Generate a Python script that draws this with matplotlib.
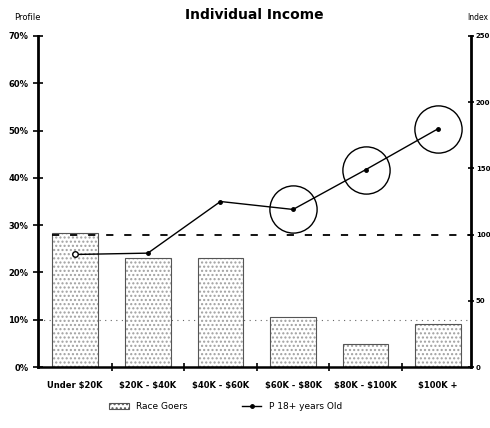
import matplotlib.pyplot as plt

# data
categories = ['Under \\$20K', '\\$20K - \\$40K', '\\$40K - \\$60K', '\\$60K - \\$80K', '\\$80K - \\$100K', '\\$100K +']
race_goers = [28.3, 23.0, 23.0, 10.6, 4.9, 9.1]      # profile, %
index_18plus = [85, 86, 125, 119, 149, 180]           # index, right axis
circled = [3, 4, 5]                                   # points with a ring round them

fig = plt.figure(figsize=(4.9, 4.28), dpi=100)
ax = fig.add_axes([0.078, 0.1425, 0.883, 0.7734])

x = list(range(len(categories)))

# bars, light stipple plus a thin outline
ax.bar(x, race_goers, width=0.63, color='white', edgecolor='#a0a0a0', hatch='....', linewidth=0, zorder=1)
ax.bar(x, race_goers, width=0.63, color='none', edgecolor='#555555', linewidth=0.8, zorder=2)

ax.set_ylim(0, 70)
ax.set_xlim(-0.51, 5.45)
ax.set_yticks(range(0, 71, 10))
ax.set_yticklabels([str(v) + '%' for v in range(0, 71, 10)], fontsize=6, fontweight='bold')
ax.set_xticks(x)
ax.set_xticklabels(categories, fontsize=6, fontweight='bold')
ax.tick_params(axis='x', length=0, pad=10)
ax.tick_params(axis='y', direction='inout', length=7, width=1.2)
ax.set_xticks([i + 0.5 for i in range(5)], minor=True)
ax.tick_params(axis='x', which='minor', direction='inout', length=6, width=1.2)

ax.spines['top'].set_visible(False)
ax.spines['right'].set_visible(False)
ax.spines['left'].set_linewidth(2)
ax.spines['bottom'].set_linewidth(1.8)

# dotted line at 10%
ax.axhline(10, color='#666666', linestyle=(0, (1, 4)), linewidth=0.8, zorder=0)

# index on the right axis
ax2 = ax.twinx()
ax2.set_ylim(0, 250)
ax2.set_yticks(range(0, 251, 50))
ax2.set_yticklabels([str(v) for v in range(0, 251, 50)], fontsize=5, fontweight='bold')
ax2.tick_params(axis='y', direction='inout', length=5, width=1.2, pad=1)
ax2.spines['top'].set_visible(False)
ax2.spines['left'].set_visible(False)
ax2.spines['bottom'].set_visible(False)
ax2.spines['right'].set_linewidth(2)

ax2.plot([-0.32, 5.45], [100, 100], color='black', linestyle=(0, (4, 6)), linewidth=1.3)

ax2.plot(x, index_18plus, color='black', linewidth=1, marker='o', markersize=2.5)
ax2.plot([x[0]], [index_18plus[0]], marker='o', markersize=4, markerfacecolor='white', markeredgecolor='black')
ax2.plot([x[i] for i in circled], [index_18plus[i] for i in circled], linestyle='none',
         marker='o', markersize=34, markerfacecolor='none', markeredgecolor='black', markeredgewidth=1)

# titles and axis names
fig.text(0.52, 0.965, 'Individual Income', ha='center', va='center', fontsize=10, fontweight='bold')
fig.text(0.055, 0.958, 'Profile', ha='center', va='center', fontsize=6)
fig.text(0.996, 0.958, 'Index', ha='right', va='center', fontsize=5.5)

# legend
fig.legend(handles=[
    plt.Rectangle((0, 0), 1, 1, facecolor='white', edgecolor='#555555', hatch='....', linewidth=0.8),
    plt.Line2D([0], [0], color='black', linewidth=1, marker='o', markersize=2.5)],
    labels=['Race Goers', 'P 18+ years Old'], ncol=2, frameon=False, fontsize=6.5,
    loc='center', bbox_to_anchor=(0.46, 0.05), columnspacing=6, handlelength=2.2)

fig.savefig('out.png', dpi=100)
